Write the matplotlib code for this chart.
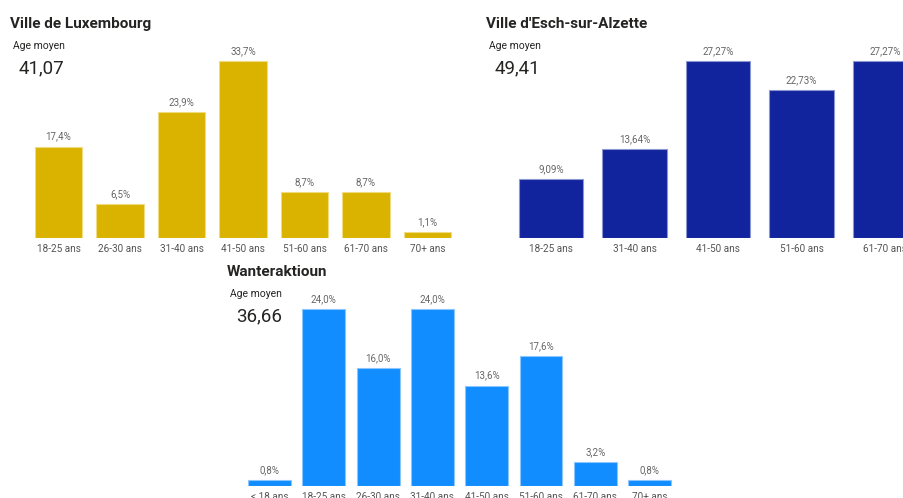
import matplotlib
matplotlib.use("Agg")
from matplotlib import pyplot as plt

plt.rcParams['font.family'] = ['Roboto', 'DejaVu Sans']

# Data
lux_labels = ['18-25 ans', '26-30 ans', '31-40 ans', '41-50 ans', '51-60 ans', '61-70 ans', '70+ ans']
lux_values = [17.4, 6.5, 23.9, 33.7, 8.7, 8.7, 1.1]
lux_text = ['17,4%', '6,5%', '23,9%', '33,7%', '8,7%', '8,7%', '1,1%']

esch_labels = ['18-25 ans', '31-40 ans', '41-50 ans', '51-60 ans', '61-70 ans']
esch_values = [9.09, 13.64, 27.27, 22.73, 27.27]
esch_text = ['9,09%', '13,64%', '27,27%', '22,73%', '27,27%']

want_labels = ['< 18 ans', '18-25 ans', '26-30 ans', '31-40 ans', '41-50 ans', '51-60 ans', '61-70 ans', '70+ ans']
want_values = [0.8, 24.0, 16.0, 24.0, 13.6, 17.6, 3.2, 0.8]
want_text = ['0,8%', '24,0%', '16,0%', '24,0%', '13,6%', '17,6%', '3,2%', '0,8%']

W, H = 904, 498
fig = plt.figure(figsize=(W / 100, H / 100), dpi=100)


def panel(left, spacing, base, labels, values, texts, color, edge, width):
    n = len(values)
    # axes in pixel units; top of tallest bar 177 px above the baseline
    ax_h = 200
    ax = fig.add_axes([left / W, (H - base) / H, n * spacing / W, ax_h / H])
    x = list(range(n))
    ax.bar(x, values, width=width, color=color, edgecolor=edge, linewidth=0.8)
    ymax = max(values) * ax_h / 177
    ax.set_ylim(0, ymax)
    ax.set_xlim(-0.5, n - 0.5)
    for xi, v, t in zip(x, values, texts):
        ax.text(xi, v + ymax * 0.025, t, ha='center', va='bottom',
                fontsize=7, color='#666666')
    ax.set_xticks(x)
    ax.set_xticklabels(labels, fontsize=7.2, color='#555555')
    ax.tick_params(axis='x', length=0, pad=4)
    ax.set_yticks([])
    for s in ax.spines.values():
        s.set_visible(False)
    ax.patch.set_alpha(0)
    return ax


panel(27.75, 61.5, 238, lux_labels, lux_values, lux_text, '#D9B300', '#F0DC80', 0.77)
panel(509.25, 83.5, 238, esch_labels, esch_values, esch_text, '#12239E', '#8C96D0', 0.77)
panel(242.35, 54.3, 486, want_labels, want_values, want_text, '#118DFF', '#8CC6FF', 0.79)


def header(x, y, title, avg):
    fig.text(x / W, 1 - y / H, title, fontsize=11, fontweight='bold',
             color='#252423', va='center', ha='left')
    fig.text((x + 3) / W, 1 - (y + 22) / H, 'Age moyen', fontsize=7.5,
             color='#252423', va='center', ha='left')
    fig.text((x + 9) / W, 1 - (y + 44) / H, avg, fontsize=13.5,
             color='#252423', va='center', ha='left')


header(10, 24, 'Ville de Luxembourg', '41,07')
header(486, 24, "Ville d'Esch-sur-Alzette", '49,41')
header(227, 272, 'Wanteraktioun', '36,66')

fig.savefig('out.png', dpi=100)
